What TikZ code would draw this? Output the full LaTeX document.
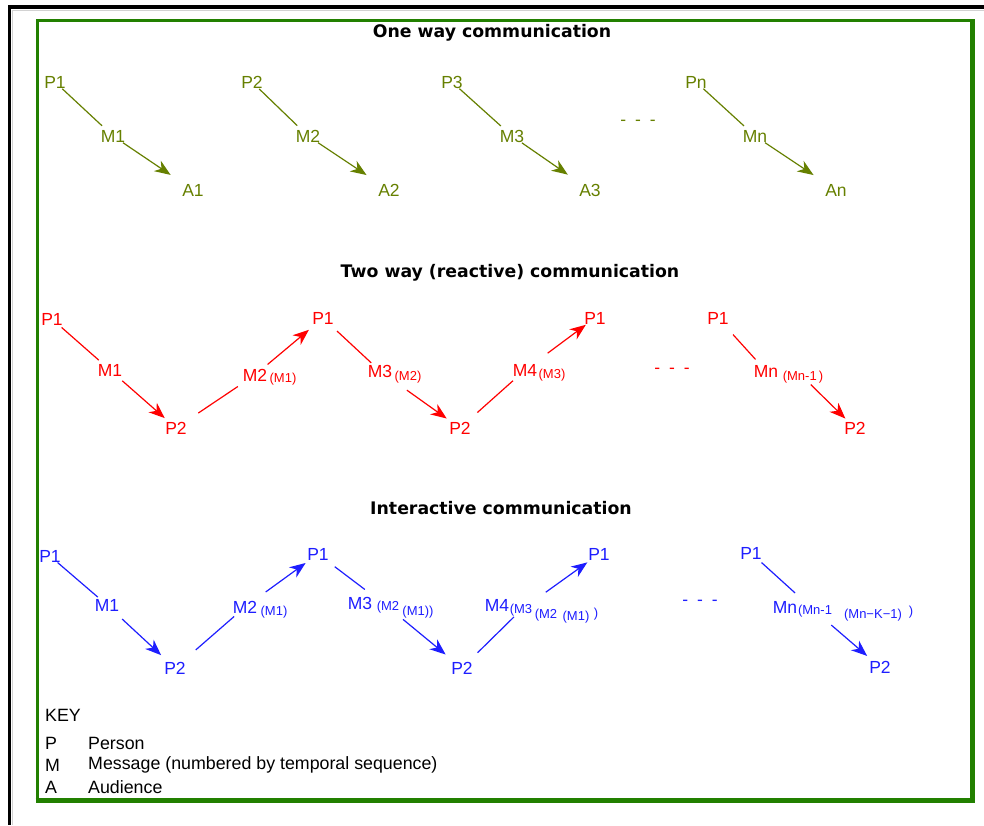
\documentclass[tikz,border=0pt]{standalone}
\usepackage{fontspec}
\setmainfont{Liberation Sans}
\newfontfamily\headfont{DejaVu Sans}
\usetikzlibrary{arrows.meta}
\definecolor{olivetxt}{RGB}{102,128,0}
\definecolor{redtxt}{RGB}{255,0,0}
\definecolor{bluetxt}{RGB}{30,30,255}
\definecolor{framegreen}{RGB}{34,128,0}
\tikzset{
  lbl/.style={inner sep=0pt, font=\fontsize{17.5}{17.5}\selectfont},
  sublbl/.style={inner sep=0pt, font=\fontsize{13}{13}\selectfont},
  heading/.style={inner sep=0pt, text=black, font=\headfont\bfseries\fontsize{17.3}{17.3}\selectfont},
  keytxt/.style={inner sep=0pt, anchor=west, font=\fontsize{17.8}{17.8}\selectfont},
  link/.style={line width=1.2pt},
  msg/.style={link, -{Stealth[length=16pt,width=12.5pt,inset=5pt]}},
}
% connector between two named nodes, trimmed at both ends
\newcommand\conn[5]{\draw[#1, shorten <=#4pt, shorten >=#5pt] (#2.center) -- (#3.center);}
\newcommand\ellipsisdash{-\hskip 9pt-\hskip 9pt-}
\begin{document}
\begin{tikzpicture}[x=1pt,y=-1pt]
\useasboundingbox (0,0) rectangle (984,825);
\fill[white] (0,0) rectangle (984,825);

% outer black frame with its faint shadow
\fill[black] (8,5) rectangle (984,9);
\fill[black] (8,5) rectangle (11,825);
\draw[gray!35, line width=1pt] (11.5,10.5) -- (984,10.5);
\draw[gray!35, line width=1pt] (12.5,10) -- (12.5,825);

% green panel
\draw[framegreen, line width=3pt] (37,20.5) rectangle (972,800);
\draw[framegreen, line width=5pt] (972,19) -- (972,802.5) (35.5,800) -- (974.5,800);

% ---------------- one way ----------------
\node[heading] (h1) at (492,33) {One way communication};
\begin{scope}[color=olivetxt]
  \node[lbl] (oP1) at (55,82) {P1};
  \node[lbl] (oM1) at (113,136) {M1};
  \node[lbl] (oA1) at (193,190) {A1};
  \node[lbl] (oP2) at (252,82) {P2};
  \node[lbl] (oM2) at (308,136) {M2};
  \node[lbl] (oA2) at (389,190) {A2};
  \node[lbl] (oP3) at (452,82) {P3};
  \node[lbl] (oM3) at (512,136) {M3};
  \node[lbl] (oA3) at (590,190) {A3};
  \node[lbl] (odots) at (638,123) {\ellipsisdash};
  \node[lbl] (oPn) at (696,82) {Pn};
  \node[lbl] (oMn) at (755,136) {Mn};
  \node[lbl] (oAn) at (836,190) {An};
  \conn{link}{oP1}{oM1}{10}{15}
  \conn{msg}{oM1}{oA1}{12}{27}
  \conn{link}{oP2}{oM2}{10}{15}
  \conn{msg}{oM2}{oA2}{12}{27}
  \conn{link}{oP3}{oM3}{10}{15}
  \conn{msg}{oM3}{oA3}{12}{27}
  \conn{link}{oPn}{oMn}{10}{15}
  \conn{msg}{oMn}{oAn}{12}{27}
\end{scope}

% ---------------- two way (reactive) ----------------
\node[heading] (h2) at (510,273) {Two way (reactive) communication};
\begin{scope}[color=redtxt]
  \node[lbl] (rP1a) at (52,319) {P1};
  \node[lbl] (rM1) at (110,370) {M1};
  \node[lbl] (rP2a) at (176,428) {P2};
  \node[lbl] (rM2) at (255,375) {M2};
  \node[sublbl] (rM2s) at (283,379) {(M1)};
  \node[lbl] (rP1b) at (323,318) {P1};
  \node[lbl] (rM3) at (380,371) {M3};
  \node[sublbl] (rM3s) at (408,377) {(M2)};
  \node[lbl] (rP2b) at (460,428) {P2};
  \node[lbl] (rM4) at (525,370) {M4};
  \node[sublbl] (rM4s) at (552,375) {(M3)};
  \node[lbl] (rP1c) at (595,318) {P1};
  \node[lbl] (rdots) at (672,371) {\ellipsisdash};
  \node[lbl] (rP1d) at (718,318) {P1};
  \node[lbl] (rMn) at (766,371) {Mn};
  \node[sublbl] (rMns) at (803,377) {(Mn-1\,)};
  \node[lbl] (rP2d) at (855,428) {P2};
  \conn{link}{rP1a}{rM1}{12.8}{14.9}
  \conn{msg}{rM1}{rP2a}{16.4}{15}
  \conn{link}{rP2a}{rM2}{26.8}{20.6}
  \conn{msg}{rM2}{rP1b}{16.4}{18.4}
  \conn{link}{rP1b}{rM3}{19.2}{12}
  \conn{msg}{rM3}{rP2b}{33}{16.3}
  \conn{link}{rP2b}{rM4}{23.3}{16.1}
  \conn{msg}{rM4}{rP1c}{28.2}{11.4}
  \conn{link}{rP1d}{rMn}{22.4}{15.6}
  \conn{msg}{rMns}{rP2d}{10.8}{13.5}
\end{scope}

% ---------------- interactive ----------------
\node[heading] (h3) at (501,508) {Interactive communication};
\begin{scope}[color=bluetxt]
  \node[lbl] (bP1a) at (50,556) {P1};
  \node[lbl] (bM1) at (107,605) {M1};
  \node[lbl] (bP2a) at (175,668) {P2};
  \node[lbl] (bM2) at (245,607) {M2};
  \node[sublbl] (bM2s) at (274,612) {(M1)};
  \node[lbl] (bP1b) at (318,554) {P1};
  \node[lbl] (bM3) at (360,603) {M3};
  \node[sublbl] (bM3s) at (388,607) {(M2};
  \node[sublbl] (bM3t) at (418,612) {(M1))};
  \node[lbl] (bP2b) at (462,668) {P2};
  \node[lbl] (bM4) at (497,605) {M4};
  \node[sublbl] (bM4s) at (521,610) {(M3};
  \node[sublbl] (bM4t) at (546,615) {(M2};
  \node[sublbl] (bM4u) at (576,617) {(M1)};
  \node[sublbl] (bM4v) at (596,614) {)};
  \node[lbl] (bP1c) at (599,554) {P1};
  \node[lbl] (bdots) at (700,603) {\ellipsisdash};
  \node[lbl] (bP1d) at (751,553) {P1};
  \node[lbl] (bMn) at (785,607) {Mn};
  \node[sublbl] (bMns) at (815,611) {(Mn-1};
  \node[sublbl] (bMnt) at (873,615) {(Mn−K−1)};
  \node[sublbl] (bMnu) at (911,612) {)};
  \node[lbl] (bP2d) at (880,667) {P2};
  \conn{link}{bP1a}{bM1}{10}{12.2}
  \conn{msg}{bM1}{bP2a}{20.6}{18.9}
  \conn{link}{bP2a}{bM2}{27.5}{14.4}
  \conn{msg}{bM2}{bP1b}{25.6}{15.3}
  \conn{link}{bP1b}{bM3s}{21}{29}
  \conn{msg}{bM3s}{bP2b}{19.4}{21.2}
  \conn{link}{bP2b}{bM4s}{21.9}{9.8}
  \conn{msg}{bM4s}{bP1c}{30.5}{14.4}
  \conn{link}{bP1d}{bMns}{14.2}{26.9}
  \conn{msg}{bMns}{bP2d}{21.5}{17}
\end{scope}

% ---------------- key ----------------
\node[keytxt] (kTitle) at (45,715) {KEY};
\node[keytxt] (kP) at (45,743) {P};
\node[keytxt] (kPd) at (88,743) {Person};
\node[keytxt] (kM) at (45,765) {M};
\node[keytxt] (kMd) at (88,765) {Message (numbered by temporal sequence)};
\node[keytxt] (kA) at (45,787) {A};
\node[keytxt] (kAd) at (88,787) {Audience};
\end{tikzpicture}
\end{document}
